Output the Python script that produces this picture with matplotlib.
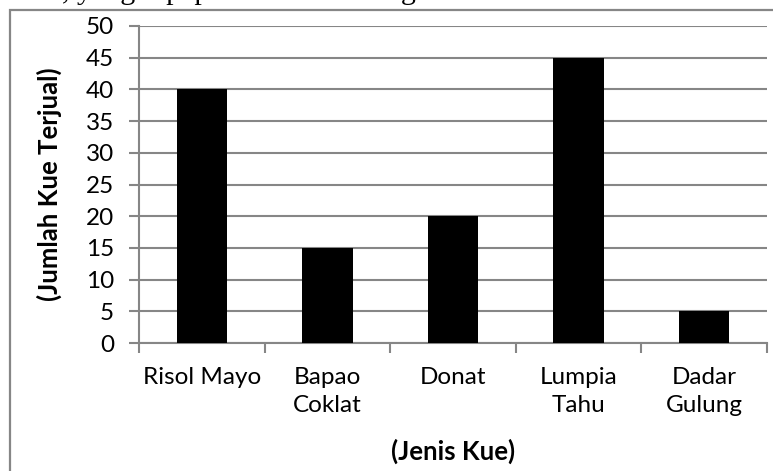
import matplotlib.pyplot as plt
import numpy as np
from matplotlib.patches import Rectangle

kue = ['Risol Mayo', 'Bapao\nCoklat', 'Donat', 'Lumpia\nTahu', 'Dadar\nGulung']
terjual = [40, 15, 20, 45, 5]
y_ticks = list(range(0, 55, 5))

grey = '#868686'
fs = 17.5
plt.rcParams['font.family'] = ['Lato', 'DejaVu Sans']

fig = plt.figure(figsize=(7.73, 4.71), dpi=100)
W, H = 773, 471

# frame around the chart, running off the right and bottom edges
fig.patches.append(Rectangle((10 / W, -0.1), 1.2, (H - 10) / H + 0.1,
                             transform=fig.transFigure, fill=False,
                             edgecolor=grey, linewidth=1.6))

# tail of the paragraph line above the chart
fig.text(62 / W, 1 + 1 / H, ', yang dipaparkan dalam diagram', family='Liberation Serif',
         fontsize=21.6, va='baseline', ha='left', color='black')

ax = fig.add_axes([139 / W, (H - 343) / H, 628 / W, 317 / H])
x = np.arange(len(kue))
ax.bar(x, terjual, width=0.4, color='black', zorder=3)

ax.set_xlim(-0.5, len(kue) - 0.5)
ax.set_ylim(0, 50)
ax.set_yticks(y_ticks)
ax.yaxis.grid(True, color=grey, linewidth=1.5)
ax.set_axisbelow(True)

ax.set_xticks(np.arange(len(kue) + 1) - 0.5)
ax.set_xticklabels([])
ax.set_xticks(x, minor=True)
ax.set_xticklabels(kue, minor=True, fontsize=fs, linespacing=1.45, va='top')
ax.tick_params(axis='x', which='minor', length=0, pad=17)
ax.tick_params(axis='x', which='major', length=7, width=1.5, color=grey)
ax.tick_params(axis='y', length=7, width=1.5, color=grey, labelsize=fs, pad=11)

for s in ['top', 'right']:
    ax.spines[s].set_visible(False)
for s in ['left', 'bottom']:
    ax.spines[s].set_color(grey)
    ax.spines[s].set_linewidth(1.5)

ax.set_ylabel('(Jumlah Kue Terjual)', fontsize=18.5, fontweight='bold', labelpad=17)
ax.set_xlabel('(Jenis Kue)', fontsize=18.5, fontweight='bold', labelpad=16)

fig.savefig('out.png', dpi=100)
